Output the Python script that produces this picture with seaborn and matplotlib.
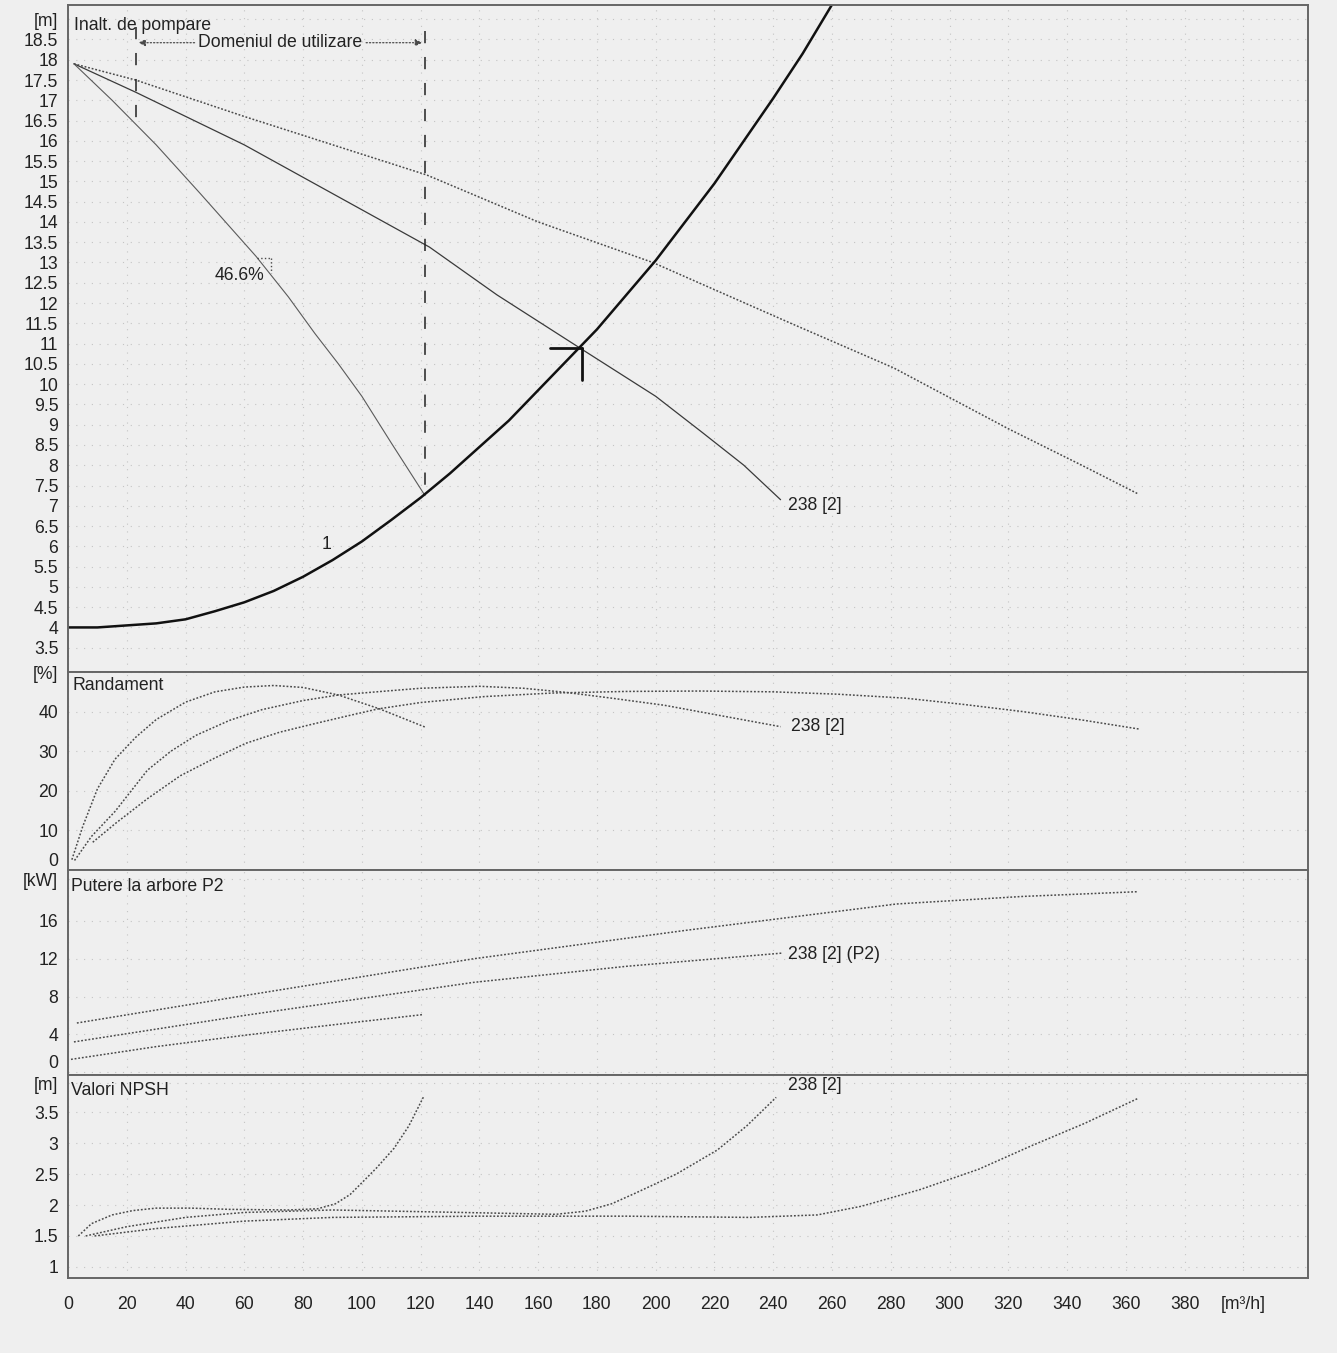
import seaborn as sns
import matplotlib.pyplot as plt
from matplotlib.ticker import MultipleLocator, FixedLocator, FixedFormatter

# ---- data (Q in m3/h) ----
# system curve "1"
q_sys = [0, 10, 20, 30, 40, 50, 60, 70, 80, 90, 100, 110, 120, 130, 140, 150, 160,
         170, 180, 190, 200, 210, 220, 230, 240, 250, 262]
h_sys = [4.0, 4.0, 4.05, 4.1, 4.2, 4.4, 4.62, 4.9, 5.25, 5.66, 6.12, 6.65, 7.2, 7.8, 8.45,
         9.1, 9.85, 10.6, 11.35, 12.2, 13.05, 14.0, 14.95, 16.0, 17.05, 18.15, 19.6]

# pump head curves: C (1 pump), B (238 [2]), A
q_hc = [2, 15, 30, 45, 64, 75, 84, 92, 100, 110, 121.5]
h_hc = [17.9, 17.0, 15.9, 14.7, 13.15, 12.15, 11.25, 10.5, 9.7, 8.55, 7.25]
q_hb = [2, 23, 60, 90, 123, 146, 174, 200, 216, 230, 242.5]
h_hb = [17.9, 17.2, 15.9, 14.7, 13.38, 12.2, 10.9, 9.7, 8.8, 8.0, 7.15]
q_ha = [2, 23, 60, 122, 160, 199, 246, 281, 320, 345, 364]
h_ha = [17.9, 17.5, 16.6, 15.16, 14.0, 13.0, 11.5, 10.4, 8.9, 8.0, 7.3]

# efficiency [%]
q_ec = [1.3, 5, 10, 16, 23, 30, 40, 50, 60, 70, 80, 92, 106, 121.5]
e_c = [2.6, 11, 20.5, 28, 33.5, 38, 42.4, 45, 46.2, 46.6, 46.1, 44.2, 40.7, 36.1]
q_eb = [2.2, 8, 16, 27, 35, 43.5, 55, 66, 80, 92, 105, 120, 140, 155, 169, 185, 203, 222, 242.5]
e_b = [2.4, 8.5, 14.8, 25.2, 30, 34.0, 37.8, 40.5, 42.8, 44.2, 45.0, 45.9, 46.4, 45.9, 44.9, 43.4, 41.6, 39.0, 36.2]
q_ea = [8.4, 16.2, 27, 38.2, 50, 60.5, 72, 83, 95, 105.6, 120, 141.7, 165, 190, 215, 240, 262, 285, 305, 325, 345, 364.5]
e_a = [7.0, 11.8, 18, 23.8, 28.3, 32.0, 34.8, 36.8, 38.9, 40.7, 42.3, 43.8, 44.7, 45.1, 45.2, 45.0, 44.4, 43.4, 41.8, 40.0, 37.9, 35.6]

# shaft power P2 [kW]
q_pc = [1, 30, 60, 90, 121]
p_c = [1.35, 2.7, 3.9, 5.0, 6.1]
q_pb = [2, 60, 138, 190, 243]
p_b = [3.2, 6.0, 9.5, 11.2, 12.6]
q_pa = [3, 60, 138, 210, 282, 325, 364]
p_a = [5.2, 8.1, 12.0, 15.0, 17.8, 18.6, 19.1]

# NPSH [m]
q_nc = [3.5, 8, 15, 22, 30, 42, 55, 75, 85, 91, 96, 100, 105, 111, 116, 121]
n_c = [1.5, 1.7, 1.84, 1.91, 1.95, 1.95, 1.93, 1.92, 1.94, 2.02, 2.17, 2.36, 2.6, 2.92, 3.28, 3.75]
q_nb = [6, 20, 40, 60, 90, 134, 166, 176, 185, 193, 207, 221, 231, 241]
n_b = [1.5, 1.65, 1.8, 1.88, 1.92, 1.88, 1.85, 1.9, 2.02, 2.19, 2.5, 2.89, 3.28, 3.74]
q_na = [9, 30, 60, 90, 140, 190, 232, 255, 270, 290, 310, 328, 346, 364]
n_a = [1.5, 1.62, 1.74, 1.80, 1.82, 1.82, 1.8, 1.84, 1.98, 2.25, 2.58, 2.96, 3.32, 3.72]

# operating point / best efficiency point / range of use
op_q, op_h = 175, 10.9
bep_q, bep_h = 69, 13.1
range_q = [23, 121.5]

x_ticks = list(range(0, 420, 20))
x_labels = [str(v) for v in range(0, 400, 20)] + ['[m³/h]']

sns.set_theme(style="white")
plt.rcParams['font.family'] = ['Liberation Sans', 'DejaVu Sans']
bg = '#efefef'
ink = '#222222'
gray = '#4a4a4a'
fs = 12.7

fig = plt.figure(figsize=(13.37, 13.53), dpi=100)
fig.patch.set_facecolor(bg)

left, width = 0.0509, 0.9274
ax_h = fig.add_axes([left, 0.5033, width, 0.4930])
ax_e = fig.add_axes([left, 0.3570, width, 0.1463])
ax_p = fig.add_axes([left, 0.2055, width, 0.1515])
ax_n = fig.add_axes([left, 0.0554, width, 0.1500])


def style_axes(ax, ylim, major, labels, minor):
    ax.set_facecolor(bg)
    ax.set_xlim(0, 422)
    ax.set_ylim(*ylim)
    ax.yaxis.set_major_locator(FixedLocator(major))
    ax.yaxis.set_major_formatter(FixedFormatter(labels))
    ax.yaxis.set_minor_locator(MultipleLocator(minor))
    ax.xaxis.set_major_locator(FixedLocator(x_ticks))
    ax.xaxis.set_minor_locator(MultipleLocator(5))
    ax.tick_params(axis='y', which='major', direction='out', length=5, width=0.8,
                   colors='#555555', labelcolor=ink, labelsize=fs, pad=2)
    ax.tick_params(axis='y', which='minor', direction='out', length=3, width=0.6, colors='#888888')
    ax.tick_params(axis='x', which='major', direction='out', length=8, width=0.8, colors='#555555',
                   labelcolor=ink, labelsize=fs, pad=5)
    ax.tick_params(axis='x', which='minor', direction='out', length=4, width=0.6, colors='#888888')
    ax.grid(True, axis='both', which='major', color='#c4c4c4', linestyle=(0, (1, 6)), linewidth=0.8)
    for s in ax.spines.values():
        s.set_color('#666666')
        s.set_linewidth(1.4)
    ax.set_xlabel('')
    ax.set_ylabel('')


head_major = [v / 2 for v in range(7, 38)] + [19]
head_labels = [('%g' % v) for v in head_major[:-1]] + ['[m]']
style_axes(ax_h, (2.9, 19.35), head_major, head_labels, 0.1)
style_axes(ax_e, (0, 50), [0, 10, 20, 30, 40, 50], ['0', '10', '20', '30', '40', '[%]'], 2)
style_axes(ax_p, (-0.3, 21.4), [0, 4, 8, 12, 16, 20.4], ['0', '4', '8', '12', '16', '[kW]'], 1)
style_axes(ax_n, (0.82, 4.1), [1, 1.5, 2, 2.5, 3, 3.5, 3.97], ['1', '1.5', '2', '2.5', '3', '3.5', '[m]'], 0.1)
for ax in (ax_h, ax_e, ax_p):
    ax.tick_params(axis='x', which='both', labelbottom=False, length=0)
ax_n.xaxis.set_major_formatter(FixedFormatter(x_labels))

# the "0" labels sit on the panel dividers, lift them clear of the unit label below
fig.canvas.draw()
for ax in (ax_e, ax_p):
    ax.get_yticklabels()[0].set_verticalalignment('bottom')

dot = (0, (1.2, 1.2))


def curve(ax, q, v, ls=dot, lw=1.1, color=gray):
    sns.lineplot(x=q, y=v, ax=ax, color=color, linestyle=ls, linewidth=lw,
                 sort=False, estimator=None, legend=False)


# ---- head panel ----
curve(ax_h, q_ha, h_ha)
curve(ax_h, q_hb, h_hb, ls='-', lw=0.9, color='#3a3a3a')
curve(ax_h, q_hc, h_hc, ls='-', lw=0.8, color='#5a5a5a')
curve(ax_h, q_sys, h_sys, ls='-', lw=1.8, color='#111111')

ax_h.plot([range_q[0], range_q[0]], [18.8, 16.4], color=ink, lw=1.1, linestyle=(0, (8, 9)))
ax_h.plot([range_q[1], range_q[1]], [18.7, 7.27], color=ink, lw=1.1, linestyle=(0, (8, 9)))
ax_h.text(72, 18.42, 'Domeniul de utilizare', ha='center', va='center', fontsize=fs, color=ink)
ax_h.annotate('', xy=(range_q[0], 18.42), xytext=(44, 18.42),
              arrowprops=dict(arrowstyle='-|>', color=gray, lw=0.9, linestyle=':', mutation_scale=10))
ax_h.annotate('', xy=(range_q[1], 18.42), xytext=(100.5, 18.42),
              arrowprops=dict(arrowstyle='-|>', color=gray, lw=0.9, linestyle=':', mutation_scale=10))

ax_h.plot([op_q - 11, op_q], [op_h, op_h], color='#111111', lw=2)
ax_h.plot([op_q, op_q], [op_h, op_h - 0.8], color='#111111', lw=2)
ax_h.plot([bep_q - 4.8, bep_q], [bep_h, bep_h], color=gray, lw=1, linestyle=':')
ax_h.plot([bep_q, bep_q], [bep_h, bep_h - 0.35], color=gray, lw=1, linestyle=':')
ax_h.text(58.4, 12.67, '46.6%', ha='center', va='center', fontsize=fs, color=ink)
ax_h.text(2, 18.85, 'Inalt. de pompare', ha='left', va='center', fontsize=fs, color=ink)
ax_h.text(88, 6.05, '1', ha='center', va='center', fontsize=fs, color=ink)
ax_h.text(245, 7.0, '238 [2]', ha='left', va='center', fontsize=fs, color=ink)

# ---- efficiency panel ----
curve(ax_e, q_ec, e_c)
curve(ax_e, q_eb, e_b)
curve(ax_e, q_ea, e_a)
ax_e.text(1.4, 46.5, 'Randament', ha='left', va='center', fontsize=fs, color=ink)
ax_e.text(246, 36.3, '238 [2]', ha='left', va='center', fontsize=fs, color=ink)

# ---- P2 panel ----
curve(ax_p, q_pc, p_c)
curve(ax_p, q_pb, p_b)
curve(ax_p, q_pa, p_a)
ax_p.text(1.0, 19.6, 'Putere la arbore P2', ha='left', va='center', fontsize=fs, color=ink)
ax_p.text(245, 12.45, '238 [2] (P2)', ha='left', va='center', fontsize=fs, color=ink)

# ---- NPSH panel ----
curve(ax_n, q_nc, n_c)
curve(ax_n, q_nb, n_b)
curve(ax_n, q_na, n_a)
ax_n.text(1.0, 3.85, 'Valori NPSH', ha='left', va='center', fontsize=fs, color=ink)
ax_n.text(245, 3.93, '238 [2]', ha='left', va='center', fontsize=fs, color=ink)

fig.savefig('out.png', dpi=100, facecolor=bg)
